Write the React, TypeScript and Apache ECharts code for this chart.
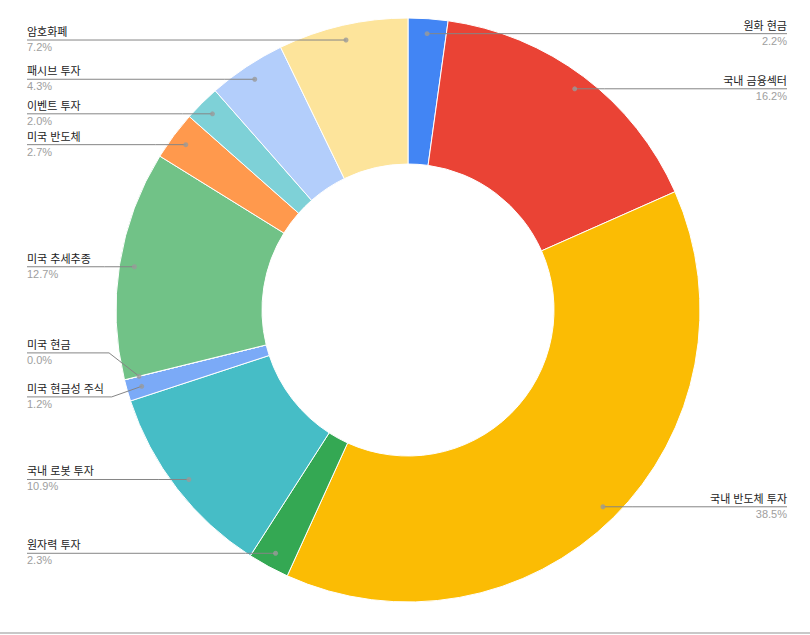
import React, { useEffect, useRef } from 'react';
import * as echarts from 'echarts';

const categories = [
  '원화 현금',
  '국내 금융섹터',
  '국내 반도체 투자',
  '원자력 투자',
  '국내 로봇 투자',
  '미국 현금성 주식',
  '미국 현금',
  '미국 추세추종',
  '미국 반도체',
  '이벤트 투자',
  '패시브 투자',
  '암호화폐',
];
const values = [2.2, 16.2, 38.5, 2.3, 10.9, 1.2, 0.0, 12.7, 2.7, 2.0, 4.3, 7.2];
const colors = [
  '#4285F4',
  '#EA4335',
  '#FBBC04',
  '#34A853',
  '#46BDC6',
  '#7BAAF7',
  '#F07B72',
  '#71C287',
  '#FF994D',
  '#7ED1D7',
  '#B3CEFB',
  '#FDE49B',
];

const W = 810;
const H = 635;
const CX = 408;
const CY = 310;
const R_OUT = 292;
const R_IN = 146;
const DOT_R = 277;
const LEFT_X = 27;
const RIGHT_X = 787;
const MIN_GAP = 30;
const PUSH_GAP = 44;

const FONT = 'Arial, "Liberation Sans", "Noto Sans CJK KR", sans-serif';

function computeLayout() {
  const total = values.reduce((a, b) => a + b, 0);
  let acc = 0;
  const items = values.map((v, i) => {
    const mid = acc + v / 2;
    acc += v;
    const a = (mid / total) * Math.PI * 2;
    const dot = [CX + DOT_R * Math.sin(a), CY - DOT_R * Math.cos(a)];
    const left = a >= Math.PI;
    return { i, v, mid, dot, left, y: dot[1] };
  });
  [true, false].forEach((side) => {
    const group = items.filter((it) => it.left === side).sort((p, q) => p.y - q.y);
    for (let k = 0; k < 100; k++) {
      let moved = false;
      for (let j = 0; j < group.length - 1; j++) {
        const A = group[j];
        const B = group[j + 1];
        const d = B.y - A.y;
        if (d < MIN_GAP - 0.01) {
          const push = PUSH_GAP - d;
          // the label of the smaller slice yields more
          const wA = (B.v + 1) / (A.v + B.v + 2);
          A.y -= push * wA;
          B.y += push * (1 - wA);
          moved = true;
        }
      }
      if (!moved) break;
    }
  });
  return { total, items };
}

export default function App() {
  const ref = useRef<HTMLDivElement>(null);

  useEffect(() => {
    if (!ref.current) return;
    const chart = echarts.init(ref.current, undefined, { renderer: 'svg' });
    const { total, items } = computeLayout();

    const leaderLines = items.map((it) => {
      const ex = it.left ? LEFT_X : RIGHT_X;
      const bendX = it.left ? it.dot[0] - 30 : it.dot[0] + 30;
      return {
        type: 'polyline',
        silent: true,
        z: 4,
        shape: {
          points: [
            [it.dot[0], it.dot[1]],
            [bendX, it.y],
            [ex, it.y],
          ],
        },
        style: { stroke: '#858585', lineWidth: 1, fill: null },
      };
    });

    const option: any = {
      animation: false,
      backgroundColor: '#ffffff',
      polar: { center: [CX, CY], radius: R_OUT },
      angleAxis: {
        type: 'value',
        min: 0,
        max: total,
        startAngle: 90,
        clockwise: true,
        show: false,
      },
      radiusAxis: { type: 'value', min: 0, max: R_OUT, show: false },
      graphic: [
        {
          type: 'rect',
          shape: { x: 0, y: H - 3, width: W, height: 2 },
          style: { fill: '#c8c8c8' },
          silent: true,
        },
        ...leaderLines,
      ],
      series: [
        {
          type: 'pie',
          center: [CX, CY],
          radius: [R_IN, R_OUT],
          startAngle: 90,
          clockwise: true,
          avoidLabelOverlap: false,
          silent: true,
          z: 2,
          itemStyle: { borderColor: '#ffffff', borderWidth: 1 },
          emphasis: { disabled: true },
          data: categories.map((name, i) => ({
            name,
            value: values[i],
            itemStyle: { color: colors[i] },
          })),
          label: {
            show: true,
            position: 'outer',
            fontFamily: FONT,
            formatter: (p: any) => `{n|${p.name}}\n{p|${Number(p.value).toFixed(1)}%}`,
            rich: {
              n: { fontSize: 11, lineHeight: 14, color: '#222222', fontFamily: FONT },
              p: { fontSize: 11, lineHeight: 16, color: '#9e9e9e', fontFamily: FONT },
            },
          },
          labelLine: { show: false },
          labelLayout: (params: any) => {
            const it = items[params.dataIndex];
            return {
              x: it.left ? LEFT_X : RIGHT_X,
              y: it.y,
              align: it.left ? 'left' : 'right',
              verticalAlign: 'middle',
            };
          },
        },
        {
          type: 'scatter',
          coordinateSystem: 'polar',
          silent: true,
          z: 6,
          symbol: 'circle',
          symbolSize: 5,
          itemStyle: { color: '#9a9a9a' },
          data: items.map((it) => [DOT_R, it.mid]),
        },
      ],
    };

    chart.setOption(option);
    return () => chart.dispose();
  }, []);

  return (
    <div
      ref={ref}
      style={{ position: 'fixed', left: 0, top: 0, width: W, height: H }}
    />
  );
}
